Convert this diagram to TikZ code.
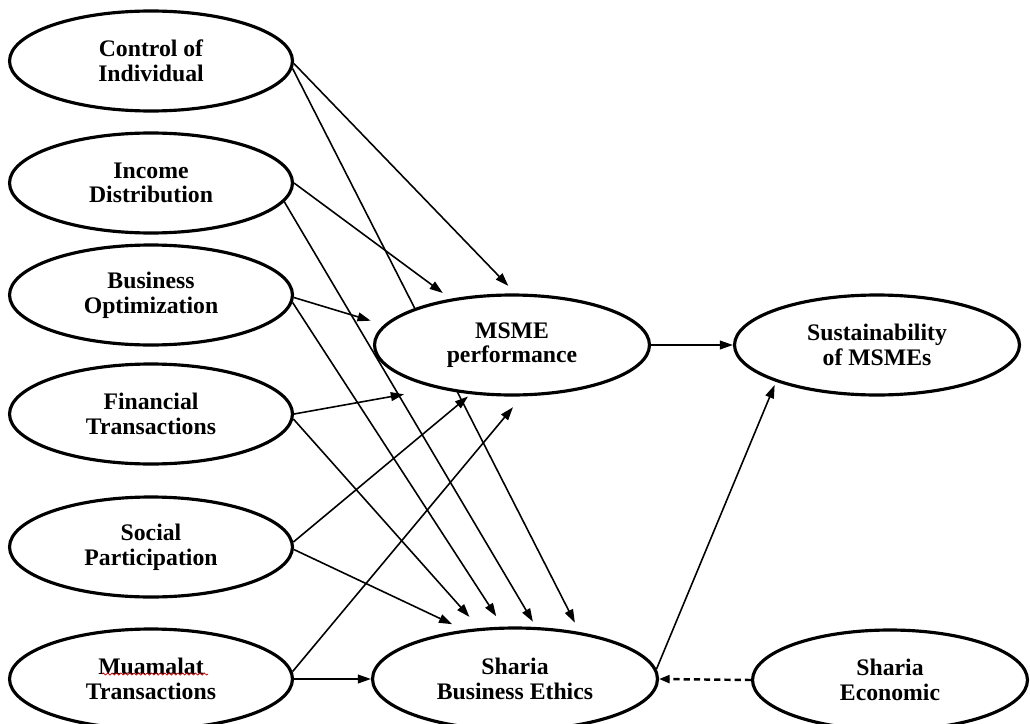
\documentclass[tikz,border=0pt]{standalone}
\usepackage{fontspec}
\setmainfont{Liberation Serif}
\usepackage{tikz}
\usetikzlibrary{arrows.meta,shapes.geometric,backgrounds,decorations.pathmorphing}
\tikzset{
  >=Triangle,
  every node/.append style={font=\fontsize{13.5}{14}\selectfont\bfseries},
}
\tikzset{
  var/.style={ellipse, draw, line width=1.8pt, fill=white, align=center, inner sep=0pt, minimum width=5.66cm, minimum height=2cm},
  arrow/.style={-{Triangle[length=7.5pt,width=5pt]}, line width=0.9pt},
  dasharrow/.style={-{Triangle[length=6pt,width=4.5pt]}, line width=1.4pt, dash pattern=on 3.5pt off 2.3pt}
}

\begin{document}
\begin{tikzpicture}[x=0.02cm, y=-0.02cm]
\useasboundingbox (0,0) rectangle (1030,723);

% independent variables
\node[var] (ci) at (151,61) {Control of\\Individual};
\node[var] (id) at (151,183) {Income\\Distribution};
\node[var] (bo) at (151,295) {Business\\Optimization};
\node[var] (ft) at (151,414) {Financial\\Transactions};
\node[var] (sp) at (151,547) {Social\\Participation};
\node[var] (mt) at (151,679) {Muamalat\\Transactions};

% mediators and outcome
\node[var, minimum width=5.5cm] (msme) at (512,345) {MSME\\performance};
\node[var, minimum width=5.7cm] (sus) at (877,345) {Sustainability\\of MSMEs};
\node[var, minimum width=5.7cm, minimum height=2.04cm] (sbe) at (515,679) {Sharia\\Business Ethics};
\node[var, minimum width=5.5cm] (se) at (890,680) {Sharia\\Economic};

% spell-check mark
\draw[red!80!black, line width=0.4pt, decorate, decoration={snake, amplitude=0.6pt, segment length=2.5pt}] (102,674) -- (208,674);

\begin{scope}[on background layer]
\draw[arrow, shorten >=6pt] (ci.-1) -- (msme.86);
\draw[arrow, shorten >=6pt] (ci.-3) -- (sbe.36);

\draw[arrow, shorten >=5.5pt] (id.0) -- (msme.143);
\draw[arrow, shorten >=3.5pt] (id.-8) -- (sbe.68);

\draw[arrow, shorten >=8pt] (bo.-1) -- (msme.171);
\draw[arrow, shorten >=7pt] (bo.-3) -- (sbe.103);

\draw[arrow, shorten >=19pt] (ft.0) -- (msme.210);
\draw[arrow, shorten >=8.5pt] (ft.-2) -- (sbe.125);

\draw[arrow, shorten >=2pt] (sp.2) -- (msme.230);
\draw[arrow, shorten >=7.5pt] (sp.-1) -- (sbe.136);

\draw[arrow, shorten >=8pt] (mt.3) -- (msme.281);
\draw[arrow] (mt.east) -- (sbe.west);

\draw[arrow] (msme.east) -- (sus.west);
\draw[arrow, shorten >=2pt] (sbe.4) -- (sus.200);
\draw[dasharrow] (se.west) -- (sbe.east);
\end{scope}
\end{tikzpicture}
\end{document}
